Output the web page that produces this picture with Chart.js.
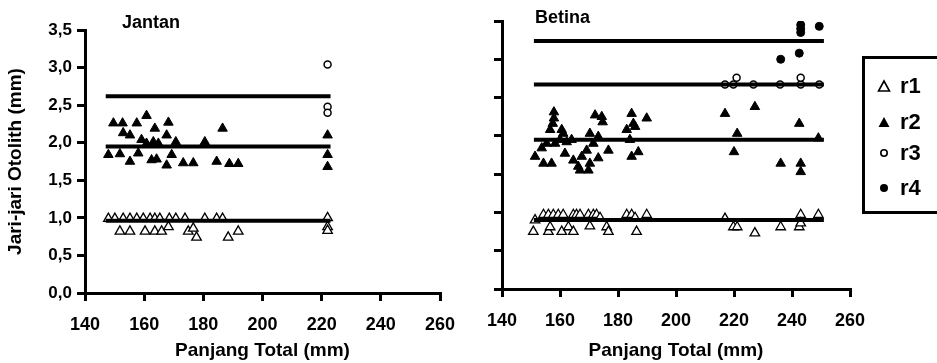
<!DOCTYPE html>
<html>
<head>
<meta charset="utf-8">
<script src="https://cdn.jsdelivr.net/npm/chart.js@4/dist/chart.umd.min.js"></script>
<style>
  body { margin: 0; background: #fff; width: 937px; height: 363px; overflow: hidden; position: relative; font-family: "Liberation Sans", Arial, sans-serif; }
  canvas { position: absolute; top: 0; }
  #left { left: 0; }
  #right { left: 470px; }
  #legend { position: absolute; left: 862px; top: 56px; width: 90px; height: 152px; border: 3px solid #000; }
  #legend .item { position: absolute; left: 0; height: 24px; display: flex; align-items: center; }
  #legend svg { width: 14px; height: 14px; margin-left: 12px; margin-right: 9px; }
  #legend span { font-weight: bold; font-size: 22px; }
</style>
</head>
<body>
<canvas id="left" width="470" height="363"></canvas>
<canvas id="right" width="420" height="363"></canvas>
<div id="legend"></div>
<script>
// tick labels / text
const panelTitles = ['Jantan', 'Betina'];
const seriesLabels = ['r1', 'r2', 'r3', 'r4'];
const xTitle = 'Panjang Total (mm)';
const yTitle = 'Jari-jari Otolith (mm)';

// Jantan (left) points, [panjang, jari-jari]
const jantanR1 = [[147.9,0.99],[150.1,0.99],[152.9,0.99],[155.2,0.99],[157.5,0.99],[159.7,0.99],[162.0,0.99],[163.6,0.99],
  [165.3,0.99],[168.5,0.99],[170.7,0.99],[173.8,0.99],[180.5,0.99],[184.5,0.99],[186.5,0.99],[222,1.00],
  [151.8,0.82],[155.2,0.82],[160.3,0.82],[163.6,0.82],[165.9,0.82],[168.2,0.88],[174.9,0.82],[176.6,0.86],
  [177.7,0.74],[188.4,0.74],[191.8,0.82],[222,0.88],[222,0.83]];
const jantanR2 = [[149.6,2.26],[152.7,2.26],[157.5,2.26],[160.8,2.36],[168.2,2.27],[186.5,2.19],[152.9,2.13],[155.2,2.10],
  [163.6,2.19],[167.6,2.10],[170.7,2.01],[180.5,2.01],[159.1,2.04],[160.8,1.99],[163.1,2.01],[164.8,1.99],
  [147.9,1.84],[151.8,1.85],[155.2,1.75],[158.0,1.86],[162.5,1.77],[164.2,1.78],[167.6,1.70],[169.3,1.84],
  [173.2,1.73],[176.6,1.73],[184.5,1.75],[188.8,1.72],[191.8,1.72],[222,2.10],[222,1.84],[222,1.68]];
const jantanR3 = [[222,3.04],[222,2.48],[222,2.40]];
const jantanMeans = [0.96, 1.95, 2.62];
const jantanSpan = [147, 223];

// Betina (right) points
const betinaR1 = [[151.4,0.90],[154.3,0.97],[156.0,0.97],[157.7,0.97],[159.4,0.97],[161.1,0.97],[164.6,0.97],[165.7,0.97],
  [166.9,0.97],[169.8,0.97],[171.5,0.97],[172.6,0.97],[173.8,0.93],[183.0,0.97],[184.7,0.97],[185.9,0.93],
  [189.9,0.97],[216.9,0.92],[243.0,0.97],[249.1,0.97],
  [150.8,0.75],[156.0,0.75],[156.6,0.81],[160.6,0.75],[162.9,0.81],[164.6,0.75],[170.3,0.82],[176.1,0.81],
  [176.7,0.75],[186.4,0.75],[219.8,0.81],[221.1,0.81],[227.2,0.73],[236.1,0.81],[242.5,0.81],[243.0,0.86]];
const betinaR2 = [[157.9,2.31],[157.9,2.23],[157.5,2.16],[156.6,2.08],[160.6,2.08],[161.1,2.03],[151.4,1.73],[154.3,1.64],
  [157.1,1.64],[153.7,1.84],[155.4,1.90],[158.3,1.90],[160.0,1.95],[162.3,1.92],[164.0,1.95],[161.7,1.77],
  [164.6,1.68],[166.3,1.60],[167.5,1.73],[166.9,1.55],[169.8,1.55],[170.3,1.64],[172.1,2.27],[174.4,2.25],
  [174.7,2.18],[170.3,2.03],[171.5,1.90],[173.2,1.99],[169.2,1.81],[173.2,1.71],[176.7,1.81],[184.7,2.29],
  [185.3,2.16],[183.0,2.08],[185.9,2.12],[184.1,1.95],[184.7,1.73],[187.0,1.79],[189.9,2.23],[216.9,2.29],
  [221.1,2.03],[220.0,1.79],[227.2,2.38],[236.1,1.64],[242.5,2.16],[243.0,1.64],[243.0,1.53],[249.1,1.97]];
const betinaR3 = [[216.9,2.67],[219.8,2.67],[220.9,2.76],[226.7,2.67],[235.9,2.67],[243.0,2.67],[243.0,2.76],[249.4,2.67]];
const betinaR4 = [[243.0,3.45],[243.0,3.40],[243.0,3.35],[249.4,3.43],[236.1,3.00],[242.5,3.08]];
const betinaMeans = [0.90, 1.95, 2.67, 3.24];
const betinaSpan = [151, 251];

const FONT = '"Liberation Sans", Arial, sans-serif';

const styles = {
  r1: { pointStyle: 'triangle', pointRadius: 5.5, backgroundColor: '#fff', borderColor: '#000', borderWidth: 1.3 },
  r2: { pointStyle: 'triangle', pointRadius: 5.5, backgroundColor: '#000', borderColor: '#000', borderWidth: 1 },
  r3: { pointStyle: 'circle', pointRadius: 3.5, backgroundColor: '#fff', borderColor: '#000', borderWidth: 1.5 },
  r4: { pointStyle: 'circle', pointRadius: 4, backgroundColor: '#000', borderColor: '#000', borderWidth: 1 }
};

function pts(arr) { return arr.map(p => ({ x: p[0], y: p[1] })); }

function meanLines(means, span) {
  return means.map(m => ({
    type: 'line',
    data: [{ x: span[0], y: m }, { x: span[1], y: m }],
    borderColor: '#000', borderWidth: 4, pointRadius: 0, showLine: true, fill: false
  }));
}

const panelTitle = {
  id: 'panelTitle',
  afterDraw(chart, args, opts) {
    const c = chart.ctx;
    c.save();
    c.font = 'bold 18px ' + FONT;
    c.fillStyle = '#000';
    c.textBaseline = 'alphabetic';
    c.fillText(opts.text, opts.x, opts.y);
    c.restore();
  }
};

function makeOptions(o) {
  return {
    responsive: false,
    animation: false,
    layout: { padding: { top: o.top, right: o.right, bottom: 0, left: 0 } },
    plugins: {
      legend: { display: false },
      tooltip: { enabled: false },
      panelTitle: { text: o.title, x: o.titleX, y: o.titleY }
    },
    scales: {
      x: {
        type: 'linear', min: 140, max: 260,
        border: { color: '#000', width: 3 },
        grid: { drawOnChartArea: false, drawTicks: true, tickLength: 8, color: '#000', lineWidth: 3 },
        ticks: { stepSize: 20, color: '#000', padding: 13, font: { family: FONT, size: 18, weight: 'bold' } },
        title: { display: true, text: xTitle, color: '#000', padding: { top: 0, bottom: 1 },
          font: { family: FONT, size: 19, weight: 'bold' } },
        afterFit(s) { s.height = o.xHeight; }
      },
      y: {
        type: 'linear', min: 0, max: 3.5,
        border: { color: '#000', width: 3 },
        grid: { drawOnChartArea: false, drawTicks: true, tickLength: 8, color: '#000', lineWidth: 3 },
        ticks: {
          display: o.yLabels, stepSize: 0.5, color: '#000', padding: 5,
          font: { family: FONT, size: 17, weight: 'bold' },
          callback: v => v.toFixed(1).replace('.', ',')
        },
        title: { display: o.yLabels, text: yTitle, color: '#000', padding: { top: 4, bottom: 0 },
          font: { family: FONT, size: 19, weight: 'bold' } },
        afterFit(s) { s.width = o.yWidth; }
      }
    }
  };
}

new Chart(document.getElementById('left'), {
  type: 'scatter',
  data: {
    datasets: [
      ...meanLines(jantanMeans, jantanSpan),
      { label: 'r1', data: pts(jantanR1), ...styles.r1 },
      { label: 'r2', data: pts(jantanR2), ...styles.r2 },
      { label: 'r3', data: pts(jantanR3), ...styles.r3 }
    ]
  },
  options: makeOptions({ top: 30, right: 30, xHeight: 70, yWidth: 85, yLabels: true,
    title: panelTitles[0], titleX: 122, titleY: 28 }),
  plugins: [panelTitle]
});

new Chart(document.getElementById('right'), {
  type: 'scatter',
  data: {
    datasets: [
      ...meanLines(betinaMeans, betinaSpan),
      { label: 'r1', data: pts(betinaR1), ...styles.r1 },
      { label: 'r2', data: pts(betinaR2), ...styles.r2 },
      { label: 'r3', data: pts(betinaR3), ...styles.r3 },
      { label: 'r4', data: pts(betinaR4), ...styles.r4 }
    ]
  },
  options: makeOptions({ top: 21, right: 40, xHeight: 74, yWidth: 32, yLabels: false,
    title: panelTitles[1], titleX: 65, titleY: 23 }),
  plugins: [panelTitle]
});

// legend box
const legendRows = [15, 51, 82, 117];
const glyphs = {
  r1: '<polygon points="7,2 12.5,12 1.5,12" fill="#fff" stroke="#000" stroke-width="1.6"/>',
  r2: '<polygon points="7,2 12.5,12 1.5,12" fill="#000"/>',
  r3: '<circle cx="7" cy="7" r="3.2" fill="#fff" stroke="#000" stroke-width="1.6"/>',
  r4: '<circle cx="7" cy="7" r="4" fill="#000"/>'
};
const legend = document.getElementById('legend');
seriesLabels.forEach((name, i) => {
  const d = document.createElement('div');
  d.className = 'item';
  d.style.top = legendRows[i] + 'px';
  d.innerHTML = '<svg viewBox="0 0 14 14">' + glyphs[name] + '</svg><span>' + name + '</span>';
  legend.appendChild(d);
});
</script>
</body>
</html>
